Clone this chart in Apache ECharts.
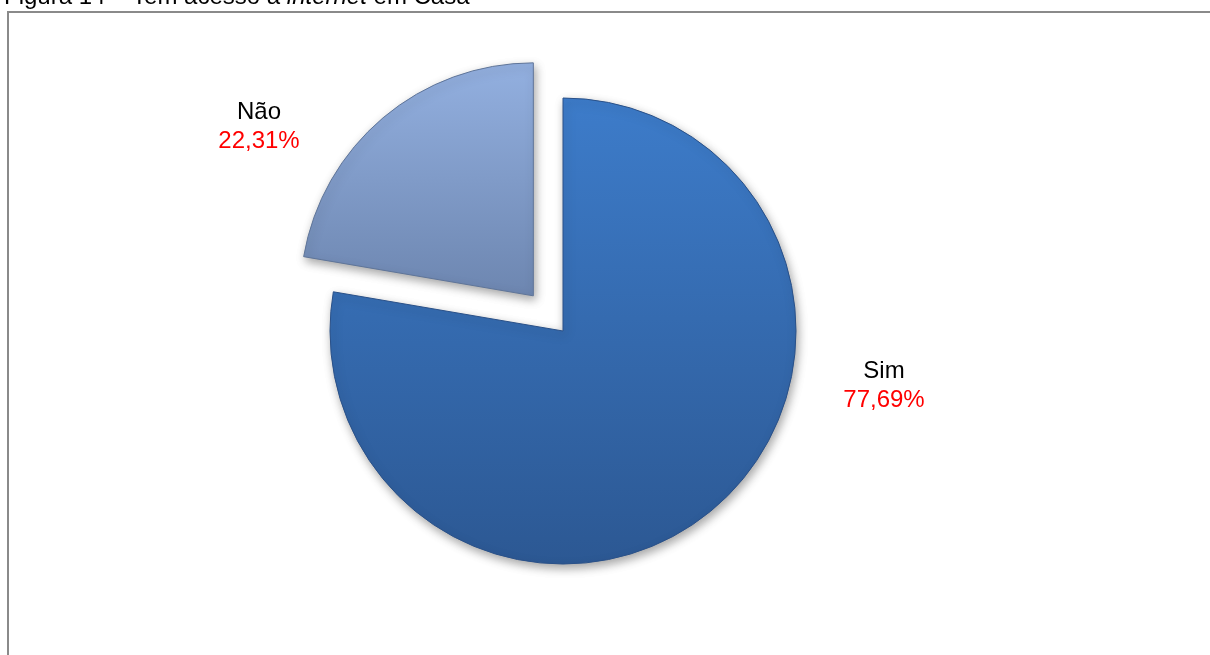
<!DOCTYPE html>
<html>
<head>
<meta charset="utf-8">
<script src="https://cdn.jsdelivr.net/npm/echarts@6/dist/echarts.min.js"></script>
<style>
  html, body { margin: 0; padding: 0; background: #fff; }
  #chart { width: 1210px; height: 655px; }
</style>
</head>
<body>
<div id="chart"></div>
<script>
// Respostas: acesso à internet em casa (%)
const categories = ['Sim', 'Não'];
const values = [77.69, 22.31];

// Label block offsets from the pie centre
const labelOffsets = [[321, 55], [-304, -204]];

const pieCenter = [563, 331];
const pieRadius = 233;
const explode = 46;     // pull-out distance of the "Não" slice

// Direction of the exploded slice: middle angle of slice 1, measured clockwise from 12 o'clock
const total = values.reduce((a, b) => a + b, 0);
const midAngle = 2 * Math.PI * (values[0] + values[1] / 2) / total;
const explodedCenter = [
  pieCenter[0] + Math.sin(midAngle) * explode,
  pieCenter[1] - Math.cos(midAngle) * explode
];

const fills = [
  new echarts.graphic.LinearGradient(0, 0, 0, 1, [
    { offset: 0, color: '#3d7cca' },
    { offset: 1, color: '#2c5893' }
  ]),
  new echarts.graphic.LinearGradient(0, 0, 0, 1, [
    { offset: 0, color: '#93b0e0' },
    { offset: 1, color: '#6d86b0' }
  ])
];
const borders = ['#2a5189', '#5f7599'];

const fontFamily = 'Liberation Sans, Arial, sans-serif';

// Build one pie layer that only shows the slice with index `shown`
function pieLayer(center, shown) {
  return {
    type: 'pie',
    center: center,
    radius: pieRadius,
    startAngle: 90,
    clockwise: true,
    avoidLabelOverlap: false,
    silent: true,
    data: categories.map((name, i) => ({
      name: name,
      value: values[i],
      itemStyle: i === shown ? {
        color: fills[i],
        borderColor: borders[i],
        borderWidth: 1,
        shadowBlur: 10,
        shadowOffsetX: 2,
        shadowOffsetY: 4,
        shadowColor: 'rgba(0,0,0,0.35)'
      } : {
        color: 'rgba(0,0,0,0)',
        borderWidth: 0,
        shadowColor: 'rgba(0,0,0,0)'
      },
      label: { show: i === shown }
    })),
    label: {
      position: 'outside',
      formatter: p => '{n|' + p.name + '}\n{p|' + p.value.toFixed(2).replace('.', ',') + '%}',
      rich: {
        n: { fontFamily: fontFamily, fontSize: 24, color: '#000', lineHeight: 29, align: 'center' },
        p: { fontFamily: fontFamily, fontSize: 24, color: '#ff0000', lineHeight: 29, align: 'center' }
      }
    },
    labelLine: { show: false },
    labelLayout: params => {
      const off = labelOffsets[params.dataIndex];
      return {
        x: pieCenter[0] + off[0],
        y: pieCenter[1] + off[1],
        align: 'center',
        verticalAlign: 'middle'
      };
    },
    emphasis: { disabled: true }
  };
}

const chart = echarts.init(document.getElementById('chart'), null, { renderer: 'canvas' });

chart.setOption({
  animation: false,
  backgroundColor: '#ffffff',
  title: {
    left: -1,
    top: -20,
    text: '{r|Figura 14 – Tem acesso à }{i|internet}{r| em Casa}',
    textStyle: {
      fontWeight: 'normal',
      rich: {
        r: { fontFamily: fontFamily, fontSize: 24, fontWeight: 'normal', color: '#000' },
        i: { fontFamily: fontFamily, fontSize: 24, fontWeight: 'normal', fontStyle: 'italic', color: '#000' }
      }
    }
  },
  graphic: [{
    type: 'polyline',
    silent: true,
    shape: { points: [[8, 660], [8, 12], [1215, 12]] },
    style: { stroke: '#8a8a8a', lineWidth: 2, fill: null }
  }],
  series: [
    pieLayer(pieCenter, 0),
    pieLayer(explodedCenter, 1)
  ]
});
</script>
</body>
</html>
